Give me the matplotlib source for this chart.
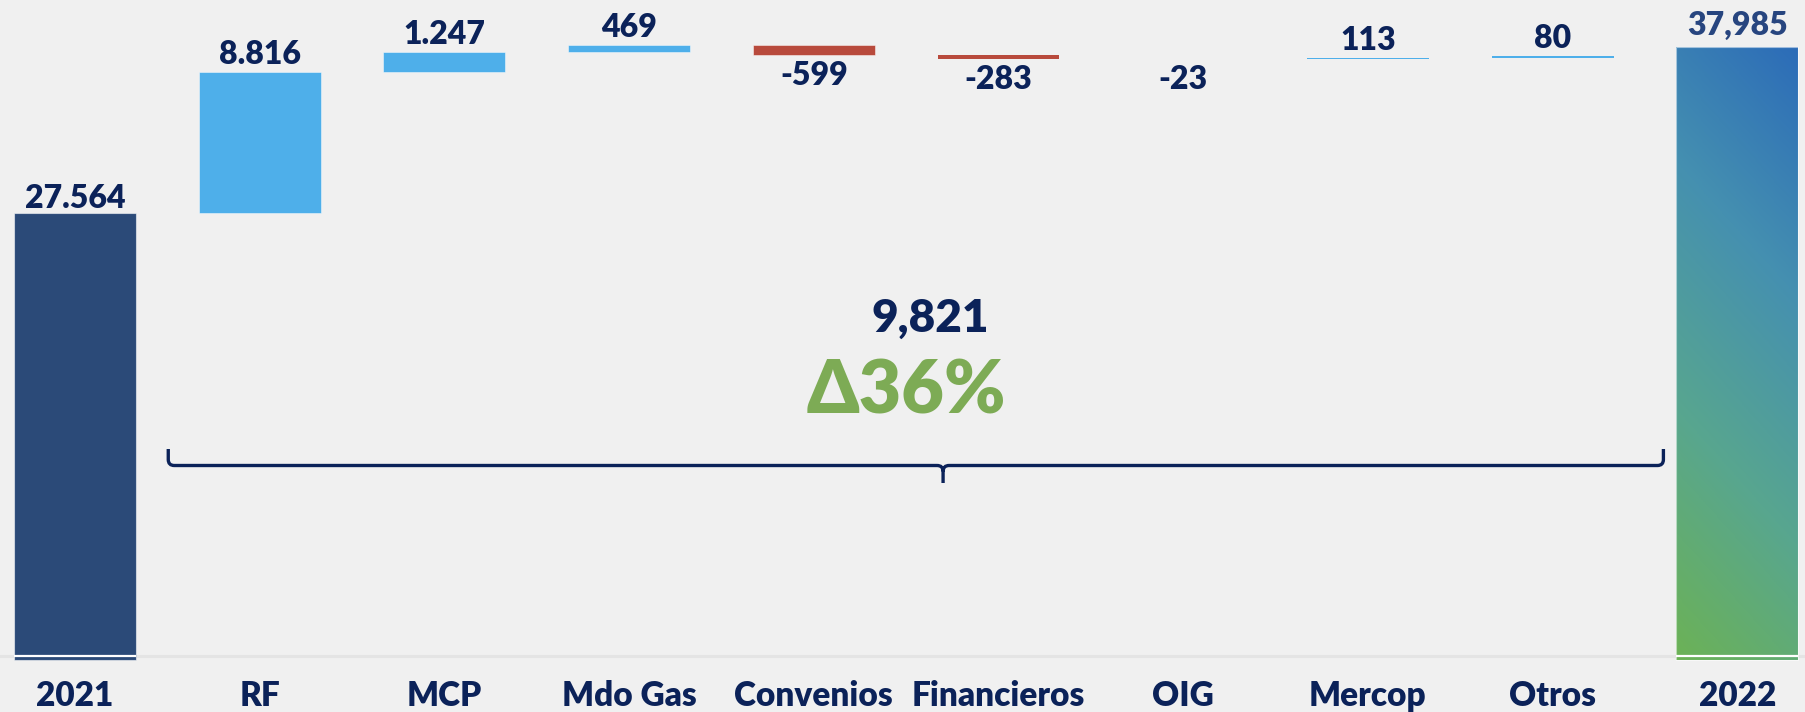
import numpy as np
import matplotlib
matplotlib.use('Agg')
import matplotlib.pyplot as plt
from matplotlib.colors import LinearSegmentedColormap
from matplotlib.path import Path
from matplotlib.patches import PathPatch

# ---------------- data ----------------
categories = ['2021', 'RF', 'MCP', 'Mdo Gas', 'Convenios', 'Financieros',
              'OIG', 'Mercop', 'Otros', '2022']
start_total = 27564
deltas = [8816, 1247, 469, -599, -283, -23, 113, 80]
end_total = 37985
value_labels = ['27.564', '8.816', '1.247', '469', '-599', '-283', '-23',
                '113', '80', '37,985']
change_label = '9,821'
pct_label = 'Δ36%'

# ---------------- style ----------------
BG = '#f0f0f0'
NAVY = '#0b2259'
DARK_BAR = '#2b4a78'
POS = '#4eafea'
NEG = '#b84a3c'
GREEN_TXT = '#7dab55'
FONT = ['Lato', 'DejaVu Sans']
WEIGHT = 'heavy'

plt.rcParams['font.family'] = FONT
plt.rcParams['font.weight'] = WEIGHT

W, H = 1806, 712
fig = plt.figure(figsize=(W / 100, H / 100), dpi=100)
fig.patch.set_facecolor(BG)
ax = fig.add_axes([0, 0, 1, 1])
ax.set_facecolor(BG)
YLIM = (-3594, 40906)
XLIM = (-0.406, 9.372)
ax.set_xlim(*XLIM)
ax.set_ylim(*YLIM)
ax.axis('off')

px = (YLIM[1] - YLIM[0]) / H  # data units per pixel (vertical)
stub = 5.5 * px               # small piece of total bars below the baseline
bar_w = 0.66
x = np.arange(len(categories))
edge = (1, 1, 1, 0.55)

# faint baseline
ax.axhline(-1.8 * px, color='#e4e4e4', lw=2.2, zorder=0.5)

# start total
ax.bar(x[0], start_total + stub, bottom=-stub, width=bar_w, color=DARK_BAR,
       edgecolor=edge, linewidth=0.8, zorder=2)

# deltas
levels = start_total + np.concatenate([[0], np.cumsum(deltas)])
for i, d in enumerate(deltas):
    lo = min(levels[i], levels[i + 1])
    ax.bar(x[i + 1], abs(d), bottom=lo, width=bar_w,
           color=POS if d >= 0 else NEG,
           edgecolor=edge if abs(d) > 400 else 'none', linewidth=0.6,
           zorder=2)

# end total with gradient
bars_end = ax.bar(x[-1], end_total + stub, bottom=-stub, width=bar_w,
                  color='none', edgecolor=edge, linewidth=0.8, zorder=3)
patch = bars_end[0]
cmap = LinearSegmentedColormap.from_list(
    'g', ['#6cb256', '#58a68f', '#4590b0', '#2c6cb8'])
ny, nx = 300, 60
yy, xx = np.mgrid[0:1:ny * 1j, 0:1:nx * 1j]
grad = 0.82 * yy + 0.18 * xx
ext = [x[-1] - bar_w / 2, x[-1] + bar_w / 2, -stub, end_total]
im = ax.imshow(grad, cmap=cmap, origin='lower', aspect='auto', extent=ext,
               zorder=2.5, interpolation='bilinear')
im.set_clip_path(patch)
ax.set_xlim(*XLIM)
ax.set_ylim(*YLIM)

# white split line near bottom of total bars
for xi in (x[0], x[-1]):
    ax.hlines(-1.8 * px, xi - bar_w / 2, xi + bar_w / 2, color='white',
              lw=1.6, zorder=4)

# value labels
fs_val = 23
tops = [start_total] + [max(levels[i], levels[i + 1]) for i in range(len(deltas))] + [end_total]
bottoms = [0] + [min(levels[i], levels[i + 1]) for i in range(len(deltas))] + [0]
all_vals = [start_total] + deltas + [end_total]
for i, (lab, v) in enumerate(zip(value_labels, all_vals)):
    if i == 0:
        xy, off, col = (x[i], tops[i]), 5, NAVY
    elif i == len(all_vals) - 1:
        xy, off, col = (x[i], tops[i]), 12, '#27457f'
    elif v >= 0:
        xy, off, col = (x[i], tops[i]), 8, NAVY
    else:
        xy, off, col = (x[i], bottoms[i]), -30, NAVY
    ax.annotate(lab, xy, xytext=(0, off), textcoords='offset pixels',
                ha='center', va='baseline', fontsize=fs_val, color=col,
                fontweight=WEIGHT, zorder=5)

# category labels
tr = ax.get_xaxis_transform()
for xi, c in zip(x, categories):
    ax.text(xi, 1 - 706.5 / H, c, transform=tr, ha='center', va='baseline',
            fontsize=24, color=NAVY, fontweight=WEIGHT)

# brace
xl, xr, xt = 0.505, 8.60, 4.70
yh = 1 - 465.5 / H
ytop = 1 - 449 / H
ytip = 1 - 483 / H
rx = 6 / 184.7
ry = 6 / H
verts = [(xl, ytop), (xl, yh + ry), (xl, yh), (xl + rx, yh),
         (xt - rx, yh), (xt, yh), (xt, yh - ry), (xt, ytip),
         (xt, yh - ry), (xt, yh), (xt + rx, yh),
         (xr - rx, yh), (xr, yh), (xr, yh + ry), (xr, ytop)]
codes = [Path.MOVETO, Path.LINETO, Path.CURVE3, Path.CURVE3,
         Path.LINETO, Path.CURVE3, Path.CURVE3, Path.LINETO,
         Path.MOVETO, Path.CURVE3, Path.CURVE3,
         Path.LINETO, Path.CURVE3, Path.CURVE3, Path.LINETO]
ax.add_patch(PathPatch(Path(verts, codes), transform=tr, fill=False,
                       edgecolor=NAVY, lw=2.4, capstyle='butt', zorder=5))

# annotation texts
ax.text(4.63, 1 - 332 / H, change_label, transform=tr, ha='center',
        va='baseline', fontsize=33, color=NAVY, fontweight=WEIGHT)
ax.text(4.50, 1 - 414 / H, pct_label, transform=tr, ha='center',
        va='baseline', fontsize=53, color=GREEN_TXT, fontweight=WEIGHT,
        family=FONT)

fig.savefig('out.png', dpi=100, facecolor=BG)
